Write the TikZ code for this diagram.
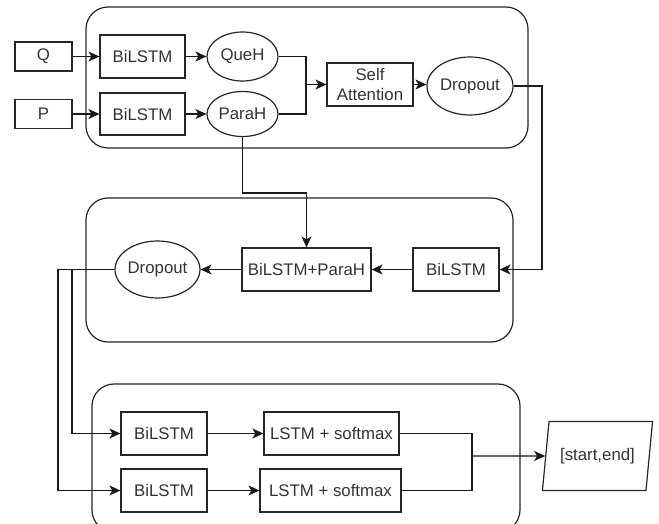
\documentclass[tikz,border=0pt]{standalone}
\usepackage{fontspec}
\setmainfont{Liberation Sans}
\usetikzlibrary{arrows.meta,shapes.geometric}

\tikzset{
  every picture/.style={line width=1.2pt},
  box/.style={draw=black!85, rectangle, inner sep=0pt, text=black!80,
    font=\fontsize{16.8}{20}\selectfont, minimum height=43pt},
  oval/.style={draw=black!85, ellipse, inner sep=0pt, text=black!80,
    font=\fontsize{16.8}{20}\selectfont},
  group/.style={draw=black!85, rounded corners=22pt},
  link/.style={draw=black!90, -{Stealth[length=11pt,width=10pt,inset=3pt]}},
  wire/.style={draw=black!90},
}

\begin{document}
\begin{tikzpicture}[x=1pt,y=-1pt]
\useasboundingbox (0,0) rectangle (659,524);

% grouping frames
\draw[group] (86,7) rectangle (528,148);
\draw[group] (86,198) rectangle (513,342);
\begin{scope}
  \clip (0,0) rectangle (659,524);
  \draw[group] (92,384) rectangle (520,532);
\end{scope}

% encoder stage
\node[box, minimum width=57pt, minimum height=29pt] (q) at (43.5,56.5) {Q};
\node[box, minimum width=57pt, minimum height=29pt] (p) at (43.5,114) {P};
\node[box, minimum width=85pt] (bq) at (142.5,56.5) {BiLSTM};
\node[box, minimum width=85pt, minimum height=42pt] (bp) at (142.5,114) {BiLSTM};
\node[oval, minimum width=71pt, minimum height=49pt] (queh) at (242.5,56.5) {QueH};
\node[oval, minimum width=71pt, minimum height=45pt] (parah) at (242.5,114) {ParaH};
\node[box, minimum width=86pt, align=center] (sa) at (370,84.5) {Self\\Attention};
\node[oval, minimum width=86pt, minimum height=58pt] (d1) at (470,86) {Dropout};

% fusion stage
\node[box, minimum width=86pt] (bm) at (456,269.5) {BiLSTM};
\node[box, minimum width=129pt] (bph) at (306.5,269.5) {BiLSTM+ParaH};
\node[oval, minimum width=85pt, minimum height=57pt] (d2) at (157.5,269.5) {Dropout};

% pointer stage
\node[box, minimum width=86pt] (b1) at (164,433.5) {BiLSTM};
\node[box, minimum width=86pt] (b2) at (164,490.5) {BiLSTM};
\node[box, minimum width=135pt] (l1) at (331.5,433.5) {LSTM + softmax};
\node[box, minimum width=141pt] (l2) at (330.5,490.5) {LSTM + softmax};
\node[draw=black!85, trapezium, trapezium left angle=72, trapezium right angle=108,
  trapezium stretches=true, minimum width=111pt, minimum height=69pt, inner sep=0pt,
  text=black!80, font=\fontsize{16.8}{20}\selectfont] (out) at (597.5,456) {[start,end]};

% junction points
\coordinate (jqp) at (306,84.5);
\coordinate (jd1) at (542,269.5);
\coordinate (jph) at (306.5,193);
\coordinate (ja) at (72,433.5);
\coordinate (jb) at (58,490.5);
\coordinate (jl) at (472,456);

% connectors
\draw[link] (q) -- (bq);
\draw[link] (p) -- (bp);
\draw[link] (bq) -- (queh);
\draw[link] (bp) -- (parah);
\draw[wire] (queh.east) -| (jqp);
\draw[wire] (parah.east) -| (jqp);
\draw[link] (jqp) -- (sa.west);
\draw[link] (sa.east) -- (sa.east -| d1.west);
\draw[link] (d1.east) -| (jd1) -- (bm.east);
\draw[link] (parah.south) |- (jph) -- (bph.north);
\draw[link] (bm) -- (bph);
\draw[link] (bph) -- (d2);
\draw[link] (d2.west) -| (ja) -- (b1.west);
\draw[link] (d2.west) -| (jb) -- (b2.west);
\draw[link] (b1) -- (l1);
\draw[link] (b2) -- (l2);
\draw[wire] (l1.east) -| (jl);
\draw[wire] (l2.east) -| (jl);
\draw[link] (jl) -- (out);
\end{tikzpicture}
\end{document}
